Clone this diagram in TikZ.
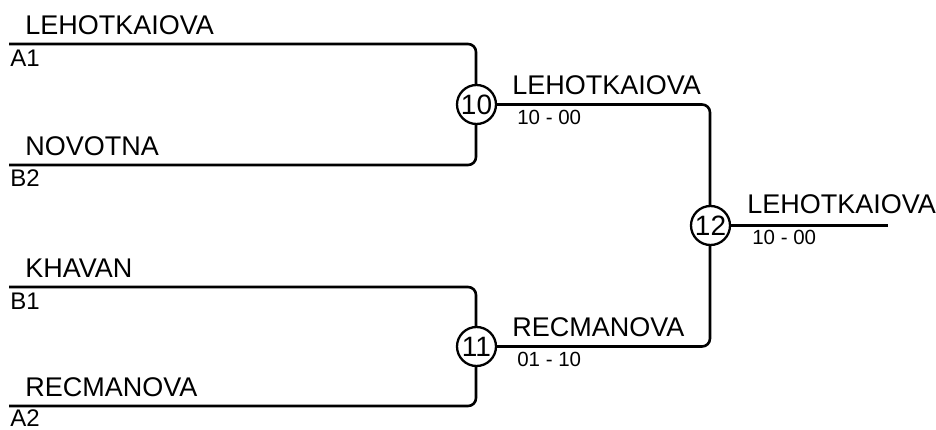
\documentclass[tikz,border=0pt]{standalone}
\usepackage{fontspec}
\setmainfont{Liberation Sans}
\begin{document}
\begin{tikzpicture}[x=1pt,y=-1pt,
  line width=2.6pt,
  bline/.style={rounded corners=8pt},
  plname/.style={anchor=base west,inner sep=0pt,font=\fontsize{27}{30}\selectfont},
  plslot/.style={anchor=base west,inner sep=0pt,font=\fontsize{24}{26}\selectfont},
  plscore/.style={anchor=base west,inner sep=0pt,font=\fontsize{20.5}{24}\selectfont},
  circ/.style={circle,draw,fill=white,line width=2.3pt,minimum size=39pt,inner sep=-1pt,font=\fontsize{28}{30}\selectfont}]
\useasboundingbox (0,0) rectangle (936,430);
% coordinates
\coordinate (a1) at (9,44);
\coordinate (b2) at (9,165);
\coordinate (b1) at (9,287);
\coordinate (a2) at (9,406);
\coordinate (c1) at (476,44);
\coordinate (c2) at (476,165);
\coordinate (c3) at (476,287);
\coordinate (c4) at (476,406);
\coordinate (d1) at (710,104.5);
\coordinate (d2) at (710,346.5);
\coordinate (fin) at (888,225.5);
% lines
\draw[bline] (a1) -- (c1) -- (c2) -- (b2);
\draw[bline] (b1) -- (c3) -- (c4) -- (a2);
\draw[bline] (476,104.5) -- (d1) -- (d2) -- (476,346.5);
\draw (710,225.5) -- (fin);
% circles
\node[circ] (m10) at (476.5,104.5) {10};
\node[circ] (m11) at (476.5,346.5) {11};
\node[circ] (m12) at (710.5,225.5) {12};
% texts
\node[plname] (n1) at (24,34.5) {LEHOTKAIOVA};
\node[plslot] (s1) at (9,66.5) {A1};
\node[plname] (n2) at (24,155.5) {NOVOTNA};
\node[plslot] (s2) at (9,187) {B2};
\node[plname] (n3) at (24,277.5) {KHAVAN};
\node[plslot] (s3) at (9,309) {B1};
\node[plname] (n4) at (24,396.5) {RECMANOVA};
\node[plslot] (s4) at (9,426) {A2};
\node[plname] (w1) at (511,94.5) {LEHOTKAIOVA};
\node[plscore] (r1) at (516,124.5) {10 - 00};
\node[plname] (w2) at (511,336.5) {RECMANOVA};
\node[plscore] (r2) at (516,366.5) {01 - 10};
\node[plname] (w3) at (746,214) {LEHOTKAIOVA};
\node[plscore] (r3) at (751,244) {10 - 00};
\end{tikzpicture}
\end{document}
